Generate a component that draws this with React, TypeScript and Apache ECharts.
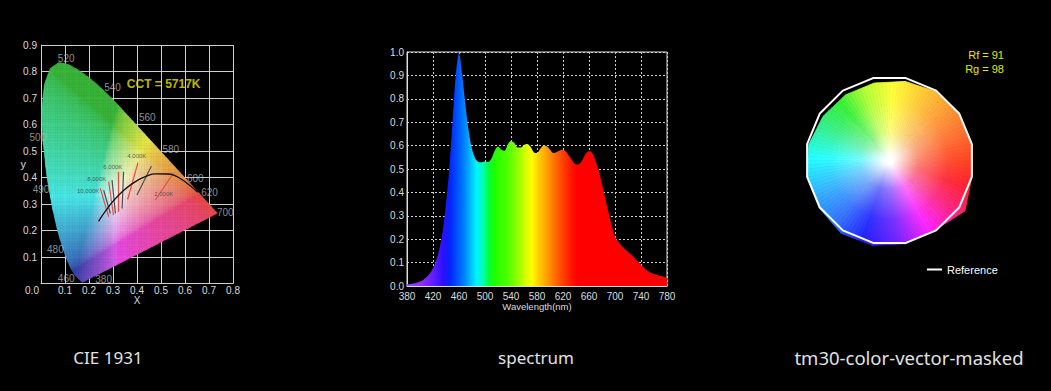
import React, { useEffect, useRef } from 'react';
import * as echarts from 'echarts';

const W = 1051;
const H = 391;
const FONT = '"Liberation Sans", Arial, sans-serif';

// ---------------- CIE 1931 ----------------
const locusNm = [380, 430, 440, 450, 460, 465, 470, 475, 480, 485, 490, 495, 500, 505, 510, 515, 520, 525, 530, 535, 540, 545, 550, 555, 560, 565, 570, 575, 580, 585, 590, 595, 600, 605, 610, 615, 620, 625, 630, 640, 650, 660, 700];
const locusX = [0.1741, 0.1689, 0.1644, 0.1566, 0.1440, 0.1355, 0.1241, 0.1096, 0.0913, 0.0687, 0.0454, 0.0235, 0.0082, 0.0039, 0.0139, 0.0389, 0.0743, 0.1142, 0.1547, 0.1929, 0.2296, 0.2658, 0.3016, 0.3373, 0.3731, 0.4087, 0.4441, 0.4788, 0.5125, 0.5448, 0.5752, 0.6029, 0.6270, 0.6482, 0.6658, 0.6801, 0.6915, 0.7006, 0.7079, 0.7190, 0.7260, 0.7300, 0.7347];
const locusY = [0.0050, 0.0069, 0.0109, 0.0177, 0.0297, 0.0399, 0.0578, 0.0868, 0.1327, 0.2007, 0.2950, 0.4127, 0.5384, 0.6548, 0.7502, 0.8120, 0.8338, 0.8262, 0.8059, 0.7816, 0.7543, 0.7243, 0.6923, 0.6589, 0.6245, 0.5896, 0.5547, 0.5202, 0.4866, 0.4544, 0.4242, 0.3965, 0.3725, 0.3514, 0.3340, 0.3197, 0.3083, 0.2993, 0.2920, 0.2809, 0.2740, 0.2700, 0.2653];

// Planckian locus (K -> x, y)
const planckK = ['inf', 25000, 15000, 10000, 8000, 6500, 5000, 4000, 3500, 3000, 2500, 2000, 1750, 1500, 1250, 1000];
const planckX = [0.2399, 0.2530, 0.2640, 0.2807, 0.2952, 0.3135, 0.3451, 0.3805, 0.4053, 0.4369, 0.4770, 0.5267, 0.5557, 0.5857, 0.6182, 0.6528];
const planckY = [0.2342, 0.2529, 0.2670, 0.2883, 0.3051, 0.3236, 0.3516, 0.3768, 0.3907, 0.4041, 0.4137, 0.4133, 0.4084, 0.3931, 0.3715, 0.3444];

// isotemperature segments (x1, y1, x2, y2) and kind (0 = red, 1 = grey)
const isoX1 = [0.552, 0.460, 0.404, 0.344, 0.323, 0.296, 0.282, 0.261, 0.247];
const isoY1 = [0.416, 0.443, 0.456, 0.422, 0.422, 0.390, 0.384, 0.352, 0.359];
const isoX2 = [0.476, 0.400, 0.361, 0.338, 0.323, 0.310, 0.302, 0.289, 0.282];
const isoY2 = [0.315, 0.334, 0.317, 0.283, 0.270, 0.264, 0.258, 0.264, 0.252];
const isoKind = [0, 1, 0, 1, 0, 1, 0, 1, 0];

const tempLabels = ['10,000K', '8,000K', '6,000K', '4,000K', '2,000K'];
const tempLabelX = [0.243, 0.272, 0.339, 0.439, 0.472];
const tempLabelY = [0.349, 0.394, 0.439, 0.481, 0.337];
const tempLabelAlign = ['right', 'right', 'right', 'right', 'left'];

const wlLabels = ['520', '540', '560', '580', '600', '620', '700', '500', '490', '480', '460', '380'];
const wlLabelX = [0.105, 0.298, 0.443, 0.541, 0.643, 0.702, 0.768, -0.013, 0.0, 0.060, 0.105, 0.261];
const wlLabelY = [0.850, 0.740, 0.626, 0.507, 0.397, 0.342, 0.269, 0.550, 0.355, 0.130, 0.019, 0.015];

const cctText = 'CCT = 5717K';
const cctPos = [0.511, 0.753];

// ---------------- Spectrum ----------------
const specWl = [380, 385, 390, 395, 400, 405, 410, 415, 420, 425, 430, 435, 440, 445, 450, 455, 460, 465, 470, 475, 480, 485, 490, 495, 500, 505, 510, 515, 520, 525, 530, 535, 540, 545, 550, 555, 560, 565, 570, 575, 580, 585, 590, 595, 600, 605, 610, 615, 620, 625, 630, 635, 640, 645, 650, 655, 660, 665, 670, 675, 680, 685, 690, 695, 700, 705, 710, 715, 720, 725, 730, 735, 740, 745, 750, 755, 760, 765, 770, 775, 780];
const specVal = [0.007, 0.009, 0.011, 0.014, 0.019, 0.026, 0.037, 0.053, 0.076, 0.11, 0.16, 0.235, 0.35, 0.50, 0.70, 0.90, 0.995, 0.90, 0.77, 0.66, 0.585, 0.545, 0.53, 0.529, 0.532, 0.53, 0.545, 0.578, 0.596, 0.582, 0.578, 0.605, 0.620, 0.612, 0.592, 0.592, 0.603, 0.607, 0.595, 0.572, 0.568, 0.585, 0.599, 0.597, 0.583, 0.568, 0.572, 0.579, 0.582, 0.573, 0.553, 0.533, 0.519, 0.521, 0.540, 0.565, 0.577, 0.568, 0.535, 0.492, 0.435, 0.375, 0.315, 0.258, 0.212, 0.19, 0.172, 0.158, 0.145, 0.134, 0.12, 0.105, 0.09, 0.077, 0.065, 0.057, 0.051, 0.047, 0.043, 0.040, 0.033];

const specStopWl = [380, 405, 422, 436, 446, 460, 470, 479, 487, 497, 505, 515, 535, 550, 562, 572, 582, 595, 607, 620, 632, 642, 780];
const specStopColor = ['#a040ff', '#8a2cff', '#5a1cff', '#2a10ff', '#0424ff', '#005cff', '#008cff', '#00c4ff', '#00f4ff', '#00ffb0', '#00ff40', '#20ff00', '#50ff00', '#90ff00', '#d4ff00', '#ffff00', '#ffd000', '#ffa000', '#ff7000', '#ff4000', '#ff1800', '#ff0000', '#ff0000'];

// ---------------- TM-30 ----------------
const tmBinAngle = [11.25, 33.75, 56.25, 78.75, 101.25, 123.75, 146.25, 168.75, 191.25, 213.75, 236.25, 258.75, 281.25, 303.75, 326.25, 348.75];
const tmRefRadius = [1, 1, 1, 1, 1, 1, 1, 1, 1, 1, 1, 1, 1, 1, 1, 1];
const tmTestRadius = [1.0, 1.0, 0.99, 0.96, 0.94, 0.94, 0.95, 0.98, 1.0, 1.01, 1.04, 1.03, 1.01, 0.99, 1.08, 1.0];
const tmRf = 91;
const tmRg = 98;

const tmHueAngle = [0, 30, 60, 88, 110, 130, 155, 178, 205, 230, 252, 275, 300, 322, 342, 360];
const tmHueColor = ['#ff4020', '#ff8030', '#ffc030', '#ffff30', '#b0ff30', '#30f030', '#30f090', '#20ffff', '#30b0ff', '#3070ff', '#2020ff', '#7020ff', '#ff20ff', '#ff2080', '#ff2030', '#ff4020'];

const bottomTitles = ['CIE 1931', 'spectrum', 'tm30-color-vector-masked'];
const bottomTitleX = [108, 536, 909];
const bottomTitleSize = [17, 17, 18.5];

// ---------------- helpers ----------------
function hexRgb(h: string) {
  return [parseInt(h.slice(1, 3), 16), parseInt(h.slice(3, 5), 16), parseInt(h.slice(5, 7), 16)];
}

function mixHex(h: string, t: number) {
  const c = hexRgb(h).map((v) => Math.round(255 + (v - 255) * t));
  return `rgb(${c[0]},${c[1]},${c[2]})`;
}

function hueHexAt(deg: number) {
  const a = ((deg % 360) + 360) % 360;
  for (let i = 0; i < tmHueAngle.length - 1; i++) {
    if (a >= tmHueAngle[i] && a <= tmHueAngle[i + 1]) {
      const t = (a - tmHueAngle[i]) / (tmHueAngle[i + 1] - tmHueAngle[i]);
      const c0 = hexRgb(tmHueColor[i]);
      const c1 = hexRgb(tmHueColor[i + 1]);
      const c = c0.map((v, k) => Math.round(v + (c1[k] - v) * t));
      return '#' + c.map((v) => v.toString(16).padStart(2, '0')).join('');
    }
  }
  return tmHueColor[0];
}

function gammaEnc(c: number) {
  return c <= 0.0031308 ? 12.92 * c : 1.055 * Math.pow(c, 1 / 2.4) - 0.055;
}

function xyColor(x: number, y: number) {
  const X = x / y;
  const Y = 1;
  const Z = (1 - x - y) / y;
  let r = 3.2406 * X - 1.5372 * Y - 0.4986 * Z;
  let g = -0.9689 * X + 1.8758 * Y + 0.0415 * Z;
  let b = 0.0557 * X - 0.204 * Y + 1.057 * Z;
  r = Math.max(r, 0);
  g = Math.max(g, 0);
  b = Math.max(b, 0);
  const m = Math.max(r, g, b, 1e-6);
  const c = [gammaEnc(r / m), gammaEnc(g / m), gammaEnc(b / m)];
  if (c[2] >= c[0] && c[2] >= c[1]) {
    c[0] = Math.pow(c[0], 1.7);
    c[1] = Math.min(1, c[1] + 0.12 * (1 - c[1]));
  }
  const sat = 1 - Math.min(c[0], c[1], c[2]);
  const gdom = Math.max(0, c[1] - Math.max(c[0], c[2]));
  const bdom = Math.max(0, c[2] - Math.max(c[0], c[1]));
  const k = 0.97 - sat * (0.06 + 0.2 * gdom + 0.3 * bdom);
  const f = (v: number) => Math.max(0, Math.min(255, Math.round((1 - (1 - v) * 0.68) * k * 255)));
  return `rgb(${f(c[0])},${f(c[1])},${f(c[2])})`;
}

function intersect(p: number[], q: number[], a: number[], b: number[]) {
  const ex = b[0] - a[0];
  const ey = b[1] - a[1];
  const dp = ex * (p[1] - a[1]) - ey * (p[0] - a[0]);
  const dq = ex * (q[1] - a[1]) - ey * (q[0] - a[0]);
  const t = dp / (dp - dq);
  return [p[0] + t * (q[0] - p[0]), p[1] + t * (q[1] - p[1])];
}

function clipConvex(subject: number[][], clip: number[][], sign: number) {
  let out = subject;
  const n = clip.length;
  for (let i = 0; i < n; i++) {
    if (!out.length) break;
    const a = clip[i];
    const b = clip[(i + 1) % n];
    const ex = b[0] - a[0];
    const ey = b[1] - a[1];
    if (Math.abs(ex) + Math.abs(ey) < 1e-9) continue;
    const inside = (p: number[]) => sign * (ex * (p[1] - a[1]) - ey * (p[0] - a[0])) >= 0;
    const input = out;
    out = [];
    for (let k = 0; k < input.length; k++) {
      const cur = input[k];
      const prev = input[(k + input.length - 1) % input.length];
      const ci = inside(cur);
      const pi = inside(prev);
      if (ci) {
        if (!pi) out.push(intersect(prev, cur, a, b));
        out.push(cur);
      } else if (pi) {
        out.push(intersect(prev, cur, a, b));
      }
    }
  }
  return out;
}

function buildCieCells() {
  const clip = locusX.map((x, i) => [x, locusY[i]]);
  let area = 0;
  for (let i = 0; i < clip.length; i++) {
    const a = clip[i];
    const b = clip[(i + 1) % clip.length];
    area += a[0] * b[1] - b[0] * a[1];
  }
  const sign = area > 0 ? 1 : -1;
  const step = 0.01;
  const cells: { poly: number[][]; color: string; cx: number; cy: number }[] = [];
  for (let i = 0; i < 75; i++) {
    for (let j = 0; j < 85; j++) {
      const x0 = i * step;
      const y0 = j * step;
      const sq = [[x0, y0], [x0 + step, y0], [x0 + step, y0 + step], [x0, y0 + step]];
      const poly = clipConvex(sq, clip, sign);
      if (poly.length < 3) continue;
      let cx = 0;
      let cy = 0;
      poly.forEach((p) => { cx += p[0]; cy += p[1]; });
      cx /= poly.length;
      cy /= poly.length;
      cells.push({ poly, color: xyColor(cx, Math.max(cy, 0.004)), cx, cy });
    }
  }
  return cells;
}

function buildOption() {
  const cells = buildCieCells();
  const specGradient = new echarts.graphic.LinearGradient(0, 0, 1, 0,
    specStopWl.map((wl, i) => ({ offset: (wl - 380) / 400, color: specStopColor[i] })));

  const axisLabelColor = '#dcdcdc';
  const gridLineColor = '#cfcfcf';

  const toXY = (r: number, deg: number) => [r * Math.cos((deg * Math.PI) / 180), r * Math.sin((deg * Math.PI) / 180)];
  const tmTestPts = tmBinAngle.map((a, i) => toXY(tmTestRadius[i], a));
  const tmRefPts = tmBinAngle.map((a, i) => toXY(tmRefRadius[i], a));

  return {
    animation: false,
    backgroundColor: '#000',
    textStyle: { fontFamily: FONT },
    grid: [
      { left: 41, top: 45, width: 192, height: 238.5 },
      { left: 407, top: 52, width: 260, height: 234, show: true, borderColor: '#dcdcdc', borderWidth: 1, backgroundColor: 'transparent' },
      { left: 784.5, top: 55.5, width: 210, height: 210 },
    ],
    legend: {
      data: ['Reference'],
      left: 922,
      top: 259,
      icon: 'rect',
      itemWidth: 15,
      itemHeight: 2,
      selectedMode: false,
      textStyle: { color: '#ffffff', fontSize: 11, fontFamily: FONT },
    },
    xAxis: [
      {
        gridIndex: 0, type: 'value', min: 0, max: 0.8, interval: 0.1,
        name: 'X', nameLocation: 'middle', nameGap: 12, nameMoveOverlap: false,
        nameTextStyle: { color: axisLabelColor, fontSize: 10, fontFamily: FONT },
        axisLine: { lineStyle: { color: gridLineColor } },
        axisTick: { show: false },
        axisLabel: {
          margin: 2, fontSize: 10, color: axisLabelColor, fontFamily: FONT,
          formatter: (v: number) => (v === 0 ? '{z|0.0}' : v.toFixed(1)),
          rich: { z: { padding: [0, 18, 0, 0], fontSize: 10, color: axisLabelColor, fontFamily: FONT } },
        },
        splitLine: { show: true, lineStyle: { color: gridLineColor, width: 1 } },
      },
      {
        gridIndex: 1, type: 'value', min: 380, max: 780, interval: 40,
        name: 'Wavelength(nm)', nameLocation: 'middle', nameGap: 15, nameMoveOverlap: false,
        nameTextStyle: { color: axisLabelColor, fontSize: 9.5, fontFamily: FONT },
        axisLine: { lineStyle: { color: '#dcdcdc' } },
        axisTick: { show: false },
        axisLabel: { margin: 5, fontSize: 10, color: axisLabelColor, fontFamily: FONT },
        splitLine: { show: true, lineStyle: { color: '#d0d0d0', width: 1, type: [2, 2] } },
      },
      { gridIndex: 2, type: 'value', min: -1.25, max: 1.25, show: false },
    ],
    yAxis: [
      {
        gridIndex: 0, type: 'value', min: 0, max: 0.9, interval: 0.1,
        name: 'y', nameLocation: 'middle', nameGap: 15, nameRotate: 0, nameMoveOverlap: false,
        nameTextStyle: { color: axisLabelColor, fontSize: 11, fontFamily: FONT },
        axisLine: { show: true, lineStyle: { color: gridLineColor } },
        axisTick: { show: false },
        axisLabel: { margin: 4, fontSize: 10, color: axisLabelColor, fontFamily: FONT, showMinLabel: false, formatter: (v: number) => v.toFixed(1) },
        splitLine: { show: true, lineStyle: { color: gridLineColor, width: 1 } },
      },
      {
        gridIndex: 1, type: 'value', min: 0, max: 1, interval: 0.1,
        axisLine: { show: true, lineStyle: { color: '#dcdcdc' } },
        axisTick: { show: false },
        axisLabel: { margin: 3, fontSize: 10, color: axisLabelColor, fontFamily: FONT, formatter: (v: number) => v.toFixed(1) },
        splitLine: { show: true, lineStyle: { color: '#d0d0d0', width: 1, type: [2, 2] } },
      },
      { gridIndex: 2, type: 'value', min: -1.25, max: 1.25, show: false },
    ],
    series: [
      {
        type: 'custom', name: 'cie-fill', xAxisIndex: 0, yAxisIndex: 0,
        silent: true, progressive: 0, z: 2,
        data: cells.map((c) => [c.cx, c.cy]),
        encode: { x: 0, y: 1 },
        renderItem: (params: any, api: any) => {
          const c = cells[params.dataIndex];
          return {
            type: 'polygon',
            shape: { points: c.poly.map((p) => api.coord(p)) },
            style: { fill: c.color, stroke: c.color, lineWidth: 0.6 },
          };
        },
      },
      {
        type: 'lines', name: 'iso', coordinateSystem: 'cartesian2d', xAxisIndex: 0, yAxisIndex: 0,
        silent: true, z: 3,
        data: isoX1.map((x, i) => ({
          coords: [[x, isoY1[i]], [isoX2[i], isoY2[i]]],
          lineStyle: { color: isoKind[i] === 0 ? '#ee4a40' : '#505050', width: 1.2, opacity: 1 },
        })),
      },
      {
        type: 'line', name: 'planck', xAxisIndex: 0, yAxisIndex: 0, silent: true, z: 4,
        data: planckX.map((x, i) => [x, planckY[i]]),
        smooth: true, symbol: 'none',
        lineStyle: { color: '#111111', width: 1.3 },
      },
      {
        type: 'scatter', name: 'temps', xAxisIndex: 0, yAxisIndex: 0, silent: true, z: 5, clip: false,
        symbolSize: 0,
        data: tempLabels.map((t, i) => ({
          name: t, value: [tempLabelX[i], tempLabelY[i]],
          label: { align: tempLabelAlign[i] },
        })),
        label: { show: true, position: 'inside', formatter: '{b}', color: '#3a3a3a', fontSize: 6, fontFamily: FONT },
      },
      {
        type: 'scatter', name: 'wavelengths', xAxisIndex: 0, yAxisIndex: 0, silent: true, z: 5, clip: false,
        symbolSize: 0,
        data: wlLabels.map((t, i) => ({ name: t, value: [wlLabelX[i], wlLabelY[i]] })),
        label: { show: true, position: 'inside', formatter: '{b}', color: '#b4b4b4', fontSize: 10, fontFamily: FONT },
      },
      {
        type: 'scatter', name: 'cct', xAxisIndex: 0, yAxisIndex: 0, silent: true, z: 5, clip: false,
        symbolSize: 0,
        data: [{ name: cctText, value: cctPos }],
        label: { show: true, position: 'inside', formatter: '{b}', color: '#f5e400', fontSize: 12, fontWeight: 'bold', fontFamily: FONT },
      },
      {
        type: 'line', name: 'spectrum', xAxisIndex: 1, yAxisIndex: 1, silent: true, z: 2,
        data: specWl.map((w, i) => [w, specVal[i]]),
        smooth: 0.3, symbol: 'none',
        lineStyle: { width: 0 },
        areaStyle: { color: specGradient, opacity: 1 },
      },
      {
        type: 'custom', name: 'tm30-test', xAxisIndex: 2, yAxisIndex: 2, silent: true, progressive: 0, z: 2,
        data: tmTestPts,
        encode: { x: 0, y: 1 },
        renderItem: (params: any, api: any) => {
          const i = params.dataIndex;
          const j = (i + 1) % tmTestPts.length;
          const p1 = tmTestPts[i];
          const p2 = tmTestPts[j];
          const c = api.coord([0, 0]);
          const R = api.coord([1, 0])[0] - c[0];
          const N = 8;
          const children: any[] = [];
          for (let k = 0; k < N; k++) {
            const t0 = k / N;
            const t1 = (k + 1) / N;
            const tm = (t0 + t1) / 2;
            const q0 = [p1[0] + (p2[0] - p1[0]) * t0, p1[1] + (p2[1] - p1[1]) * t0];
            const q1 = [p1[0] + (p2[0] - p1[0]) * t1, p1[1] + (p2[1] - p1[1]) * t1];
            const qm = [p1[0] + (p2[0] - p1[0]) * tm, p1[1] + (p2[1] - p1[1]) * tm];
            const ang = (Math.atan2(qm[1], qm[0]) * 180) / Math.PI;
            const hex = hueHexAt(ang);
            const fill = new echarts.graphic.RadialGradient(c[0], c[1], R, [
              { offset: 0, color: '#ffffff' },
              { offset: 0.04, color: '#ffffff' },
              { offset: 0.35, color: mixHex(hex, 0.62) },
              { offset: 0.7, color: mixHex(hex, 0.92) },
              { offset: 1, color: mixHex(hex, 1) },
            ], true);
            children.push({
              type: 'polygon',
              shape: { points: [c, api.coord(q0), api.coord(q1)] },
              style: { fill, stroke: fill, lineWidth: 0.8 },
            });
          }
          return { type: 'group', children };
        },
      },
      {
        type: 'line', name: 'Reference', xAxisIndex: 2, yAxisIndex: 2, silent: true, z: 5,
        data: [...tmRefPts, tmRefPts[0]],
        symbol: 'none',
        lineStyle: { color: '#ffffff', width: 2 },
        itemStyle: { color: '#ffffff' },
      },
    ],
    graphic: [
      { type: 'text', x: 1004, y: 55, style: { text: `Rf = ${tmRf}`, align: 'right', verticalAlign: 'middle', fill: '#e8e800', fontSize: 11, fontFamily: FONT } },
      { type: 'text', x: 1004, y: 68.5, style: { text: `Rg = ${tmRg}`, align: 'right', verticalAlign: 'middle', fill: '#e8e800', fontSize: 11, fontFamily: FONT } },
      ...bottomTitles.map((t, i) => ({
        type: 'text', x: bottomTitleX[i], y: 357,
        style: { text: t, align: 'center', verticalAlign: 'middle', fill: '#e2e2e2', fontSize: bottomTitleSize[i], fontFamily: '"Noto Sans", "Open Sans", sans-serif' },
      })),
    ],
  };
}

export default function App() {
  const ref = useRef<HTMLDivElement>(null);
  useEffect(() => {
    const chart = echarts.init(ref.current as HTMLDivElement, null, { renderer: 'svg' });
    chart.setOption(buildOption() as any);
    return () => chart.dispose();
  }, []);
  return (
    <div
      ref={ref}
      style={{ position: 'fixed', left: 0, top: 0, width: W, height: H, background: '#000' }}
    />
  );
}
